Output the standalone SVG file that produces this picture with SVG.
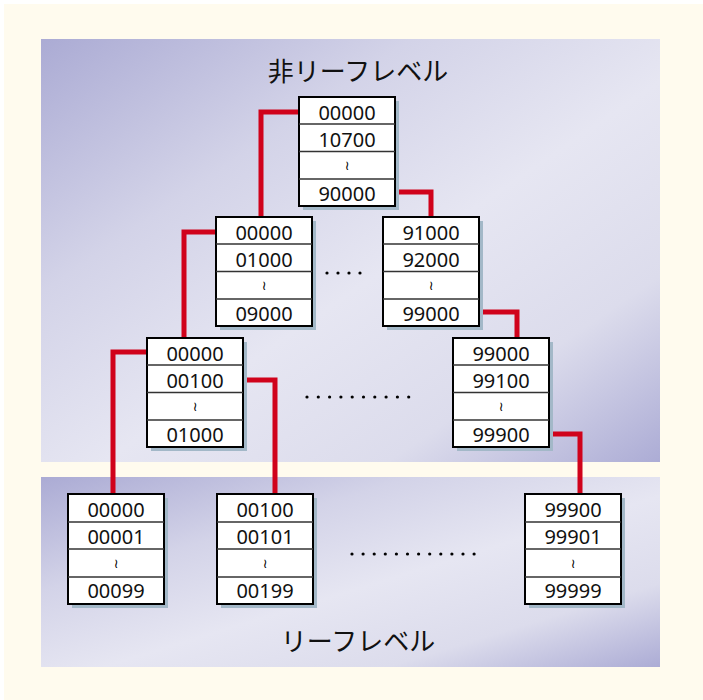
<svg xmlns="http://www.w3.org/2000/svg" width="703" height="700" viewBox="0 0 703 700">
<defs>
<linearGradient id="pg" x1="0" y1="0" x2="1" y2="1">
<stop offset="0" stop-color="#ABABD4"/>
<stop offset="0.3" stop-color="#D3D3E8"/>
<stop offset="0.55" stop-color="#E6E6F2"/>
<stop offset="0.78" stop-color="#DCDCEC"/>
<stop offset="1" stop-color="#ACACD5"/>
</linearGradient>
<style>
.sh{fill:#A3B8C8}
.bx{fill:#fff;stroke:#000;stroke-width:2}
.sep{stroke:#333;stroke-width:1.5}
.t{font-family:"Noto Sans","DejaVu Sans",sans-serif;font-size:20px;text-anchor:middle;fill:#111}
.w{font-family:"DejaVu Sans",sans-serif;font-size:13px;text-anchor:middle;fill:#000}
.ttl{font-family:"Noto Sans CJK JP","Noto Sans",sans-serif;font-size:26px;text-anchor:middle;fill:#111}
.cn{fill:none;stroke:#D0021B;stroke-width:5;stroke-linejoin:miter}
.dot{fill:#000}
</style>
</defs>
<rect x="0" y="0" width="703" height="700" fill="#fff"/>
<rect x="4" y="4" width="699" height="696" fill="#FFFBEE"/>
<rect x="41" y="39" width="619" height="423" fill="url(#pg)"/>
<rect x="41" y="477" width="619" height="190" fill="url(#pg)"/>
<text class="ttl" x="358" y="81">非リーフレベル</text>
<text class="ttl" x="358" y="651">リーフレベル</text>

<g id="connectors">
<path class="cn" d="M299,112 H261 V217"/>
<path class="cn" d="M395,192 H431 V217"/>
<path class="cn" d="M216,232 H184 V338"/>
<path class="cn" d="M479,312 H517 V338"/>
<path class="cn" d="M147,352 H113 V494"/>
<path class="cn" d="M244,380 H275 V494"/>
<path class="cn" d="M549,434 H580 V494"/>
</g>

<g id="dots">
<circle class="dot" cx="327" cy="273" r="1.6"/><circle class="dot" cx="338" cy="273" r="1.6"/><circle class="dot" cx="349" cy="273" r="1.6"/><circle class="dot" cx="360" cy="273" r="1.6"/>
<circle class="dot" cx="307" cy="397" r="1.6"/><circle class="dot" cx="318.3" cy="397" r="1.6"/><circle class="dot" cx="329.6" cy="397" r="1.6"/><circle class="dot" cx="340.9" cy="397" r="1.6"/><circle class="dot" cx="352.2" cy="397" r="1.6"/><circle class="dot" cx="363.5" cy="397" r="1.6"/><circle class="dot" cx="374.8" cy="397" r="1.6"/><circle class="dot" cx="386.1" cy="397" r="1.6"/><circle class="dot" cx="397.4" cy="397" r="1.6"/><circle class="dot" cx="408.7" cy="397" r="1.6"/>
<circle class="dot" cx="352" cy="554" r="1.6"/><circle class="dot" cx="363.1" cy="554" r="1.6"/><circle class="dot" cx="374.2" cy="554" r="1.6"/><circle class="dot" cx="385.3" cy="554" r="1.6"/><circle class="dot" cx="396.4" cy="554" r="1.6"/><circle class="dot" cx="407.5" cy="554" r="1.6"/><circle class="dot" cx="418.6" cy="554" r="1.6"/><circle class="dot" cx="429.7" cy="554" r="1.6"/><circle class="dot" cx="440.8" cy="554" r="1.6"/><circle class="dot" cx="451.9" cy="554" r="1.6"/><circle class="dot" cx="463" cy="554" r="1.6"/><circle class="dot" cx="474.1" cy="554" r="1.6"/>
</g>

<g id="root" transform="translate(299,97)">
<rect class="sh" x="4" y="4" width="96" height="109"/>
<rect class="bx" x="0" y="0" width="96" height="109"/>
<line class="sep" x1="0" y1="27" x2="96" y2="27"/><line class="sep" x1="0" y1="54.5" x2="96" y2="54.5"/><line class="sep" x1="0" y1="82" x2="96" y2="82"/>
<text class="t" x="48" y="23">00000</text><text class="t" x="48" y="50">10700</text><text class="w" x="48" y="73">≀</text><text class="t" x="48" y="104">90000</text>
</g>

<g id="n2a" transform="translate(216,217)">
<rect class="sh" x="4" y="4" width="96" height="109"/>
<rect class="bx" x="0" y="0" width="96" height="109"/>
<line class="sep" x1="0" y1="27" x2="96" y2="27"/><line class="sep" x1="0" y1="54.5" x2="96" y2="54.5"/><line class="sep" x1="0" y1="82" x2="96" y2="82"/>
<text class="t" x="48" y="23">00000</text><text class="t" x="48" y="50">01000</text><text class="w" x="48" y="73">≀</text><text class="t" x="48" y="104">09000</text>
</g>

<g id="n2b" transform="translate(383,217)">
<rect class="sh" x="4" y="4" width="96" height="109"/>
<rect class="bx" x="0" y="0" width="96" height="109"/>
<line class="sep" x1="0" y1="27" x2="96" y2="27"/><line class="sep" x1="0" y1="54.5" x2="96" y2="54.5"/><line class="sep" x1="0" y1="82" x2="96" y2="82"/>
<text class="t" x="48" y="23">91000</text><text class="t" x="48" y="50">92000</text><text class="w" x="48" y="73">≀</text><text class="t" x="48" y="104">99000</text>
</g>

<g id="n3a" transform="translate(147,338)">
<rect class="sh" x="4" y="4" width="96" height="109"/>
<rect class="bx" x="0" y="0" width="96" height="109"/>
<line class="sep" x1="0" y1="27" x2="96" y2="27"/><line class="sep" x1="0" y1="54.5" x2="96" y2="54.5"/><line class="sep" x1="0" y1="82" x2="96" y2="82"/>
<text class="t" x="48" y="23">00000</text><text class="t" x="48" y="50">00100</text><text class="w" x="48" y="73">≀</text><text class="t" x="48" y="104">01000</text>
</g>

<g id="n3b" transform="translate(453,338)">
<rect class="sh" x="4" y="4" width="96" height="109"/>
<rect class="bx" x="0" y="0" width="96" height="109"/>
<line class="sep" x1="0" y1="27" x2="96" y2="27"/><line class="sep" x1="0" y1="54.5" x2="96" y2="54.5"/><line class="sep" x1="0" y1="82" x2="96" y2="82"/>
<text class="t" x="48" y="23">99000</text><text class="t" x="48" y="50">99100</text><text class="w" x="48" y="73">≀</text><text class="t" x="48" y="104">99900</text>
</g>

<g id="leaf1" transform="translate(68,494)">
<rect class="sh" x="4" y="4" width="96" height="110"/>
<rect class="bx" x="0" y="0" width="96" height="110"/>
<line class="sep" x1="0" y1="28" x2="96" y2="28"/><line class="sep" x1="0" y1="55" x2="96" y2="55"/><line class="sep" x1="0" y1="83" x2="96" y2="83"/>
<text class="t" x="48" y="23">00000</text><text class="t" x="48" y="50">00001</text><text class="w" x="48" y="74">≀</text><text class="t" x="48" y="104">00099</text>
</g>

<g id="leaf2" transform="translate(217,494)">
<rect class="sh" x="4" y="4" width="96" height="110"/>
<rect class="bx" x="0" y="0" width="96" height="110"/>
<line class="sep" x1="0" y1="28" x2="96" y2="28"/><line class="sep" x1="0" y1="55" x2="96" y2="55"/><line class="sep" x1="0" y1="83" x2="96" y2="83"/>
<text class="t" x="48" y="23">00100</text><text class="t" x="48" y="50">00101</text><text class="w" x="48" y="74">≀</text><text class="t" x="48" y="104">00199</text>
</g>

<g id="leaf3" transform="translate(525,494)">
<rect class="sh" x="4" y="4" width="96" height="110"/>
<rect class="bx" x="0" y="0" width="96" height="110"/>
<line class="sep" x1="0" y1="28" x2="96" y2="28"/><line class="sep" x1="0" y1="55" x2="96" y2="55"/><line class="sep" x1="0" y1="83" x2="96" y2="83"/>
<text class="t" x="48" y="23">99900</text><text class="t" x="48" y="50">99901</text><text class="w" x="48" y="74">≀</text><text class="t" x="48" y="104">99999</text>
</g>
</svg>
